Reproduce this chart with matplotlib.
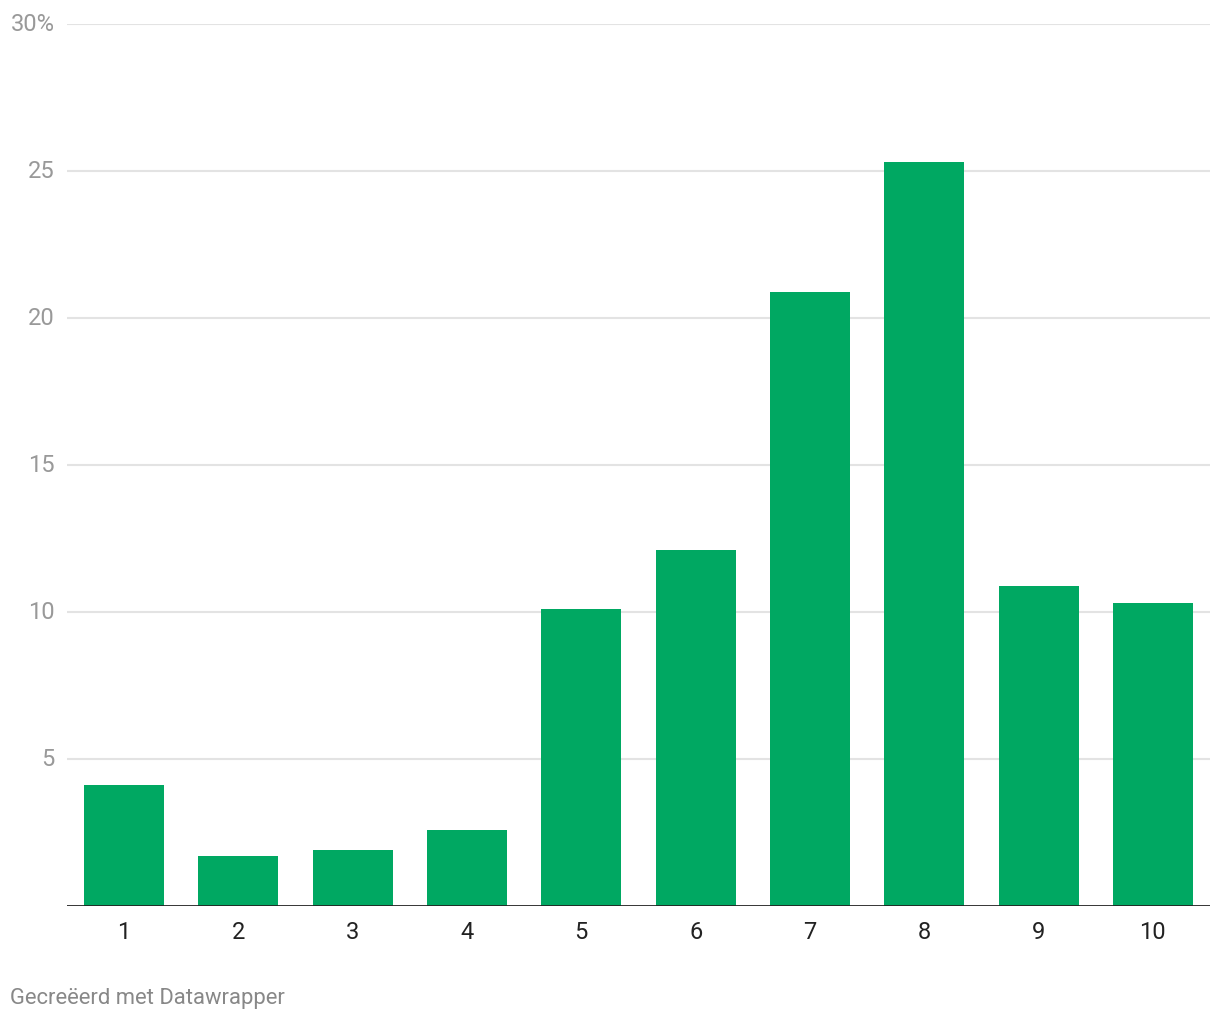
import matplotlib
matplotlib.use('Agg')
import matplotlib.pyplot as plt

plt.rcParams['font.family'] = ['Roboto', 'DejaVu Sans']

# scores 1-10, share of respondents in %
categories = ['1', '2', '3', '4', '5', '6', '7', '8', '9', '10']
values = [4.1, 1.7, 1.9, 2.6, 10.1, 12.1, 20.9, 25.3, 10.9, 10.3]
y_ticks = [5, 10, 15, 20, 25, 30]
y_labels = ['5', '10', '15', '20', '25', '30%']

fig = plt.figure(figsize=(12.2, 10.2), dpi=100)
ax = fig.add_axes([67 / 1220, 113 / 1020, 1143 / 1220, 882 / 1020])

x = list(range(1, len(categories) + 1))
ax.bar(x, values, width=0.7, color='#00a862', zorder=3)

ax.set_xlim(0.5, 10.5)
ax.set_ylim(0, 30)

# grid lines
for t in y_ticks:
    ax.axhline(t, color='#e3e3e3', lw=1.5, zorder=1)
ax.axhline(0, color='#222222', lw=2, zorder=4)

for s in ax.spines.values():
    s.set_visible(False)

ax.set_yticks(y_ticks)
ax.set_yticklabels([])
ax.tick_params(axis='y', length=0)
for t, lab in zip(y_ticks, y_labels):
    ax.text(-12 / 1143 * 10 + 0.5, t, lab, ha='right', va='center',
            fontsize=17, color='#999999', transform=ax.transData)

ax.set_xticks(x)
ax.set_xticklabels(categories, fontsize=17, color='#222222')
ax.tick_params(axis='x', length=0, pad=10)

fig.text(10 / 1220, 1 - 999 / 1020, 'Gecreëerd met Datawrapper', ha='left', va='center',
         fontsize=15.8, color='#888888')

fig.savefig('out.png', dpi=100)
